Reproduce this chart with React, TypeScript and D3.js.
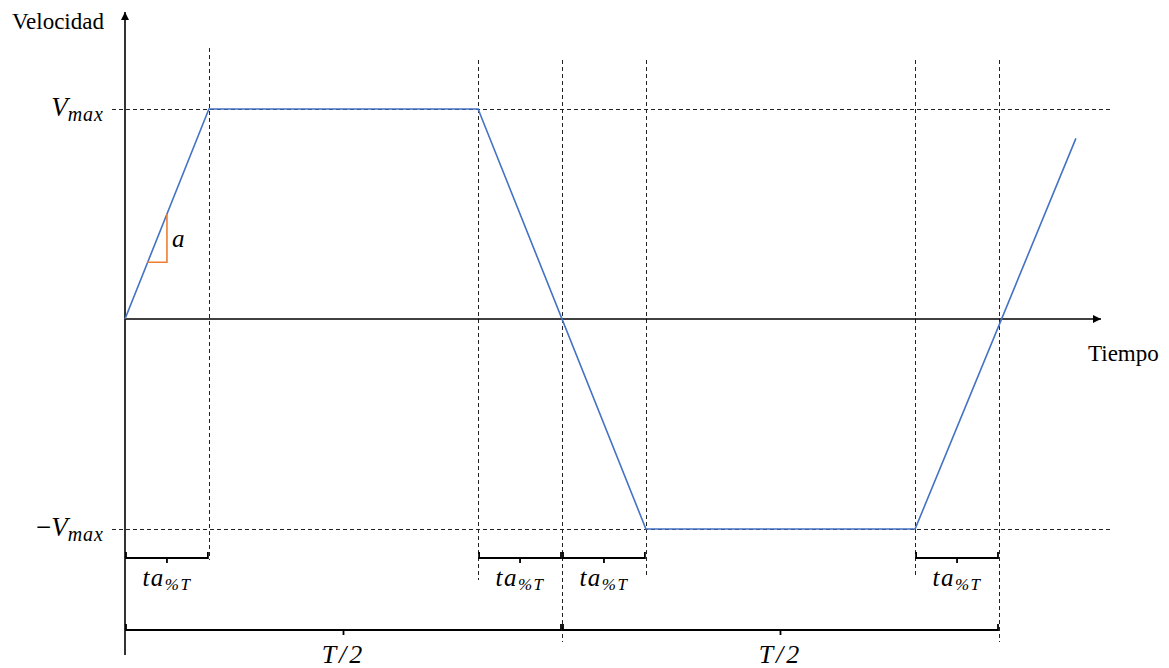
import React, { useRef, useEffect } from "react";
import * as d3 from "d3";

// 시간 단위: T = 1, 속도 단위: Vmax = 1
const taFraction = 0.096;
const velocityTimes = [0, 0.096, 0.404, 0.596, 0.904, 1.088];
const velocityValues = [0, 1, 1, -1, -1, 0.86];
const guideTimes = [0.096, 0.404, 0.5, 0.596, 0.904, 1.0];
const taBrackets = [
  [0, 0.096],
  [0.404, 0.5],
  [0.5, 0.596],
  [0.904, 1.0],
];
const halfBrackets = [
  [0, 0.5],
  [0.5, 1.0],
];
const levelValues = [1, -1];

const W = 1169;
const H = 668;
const BLUE = "#4472C4";
const ORANGE = "#ED7D31";
const MATH_FONT = "'Liberation Serif', 'DejaVu Serif', serif";

const App = () => {
  const ref = useRef<SVGSVGElement | null>(null);

  useEffect(() => {
    if (!ref.current) return;
    const svg = d3.select(ref.current);
    svg.selectAll("*").remove();

    const x = d3.scaleLinear().domain([0, 1]).range([125, 999]);
    const y = d3.scaleLinear().domain([-1, 1]).range([529, 109]);

    // 화살표 마커
    svg
      .append("defs")
      .append("marker")
      .attr("id", "arrow")
      .attr("viewBox", "0 0 10 10")
      .attr("refX", 10)
      .attr("refY", 5)
      .attr("markerWidth", 8)
      .attr("markerHeight", 8)
      .attr("markerUnits", "userSpaceOnUse")
      .attr("orient", "auto")
      .append("path")
      .attr("d", "M0,0 L10,5 L0,10 Z")
      .attr("fill", "#000");

    // 수평 점선 (Vmax, -Vmax)
    svg
      .selectAll("line.hguide")
      .data(levelValues)
      .enter()
      .append("line")
      .attr("x1", 112)
      .attr("x2", 1110)
      .attr("y1", (d) => y(d) + 0.5)
      .attr("y2", (d) => y(d) + 0.5)
      .attr("stroke", "#222")
      .attr("stroke-width", 1)
      .attr("stroke-dasharray", "4,3");

    // 수직 점선
    const guideTop = [48, 60, 60, 60, 60, 60];
    const guideBottom = [560, 580, 642, 576, 578, 642];
    svg
      .selectAll("line.vguide")
      .data(guideTimes)
      .enter()
      .append("line")
      .attr("x1", (d) => Math.round(x(d)) + 0.5)
      .attr("x2", (d) => Math.round(x(d)) + 0.5)
      .attr("y1", (d, i) => guideTop[i])
      .attr("y2", (d, i) => guideBottom[i])
      .attr("stroke", "#222")
      .attr("stroke-width", 1)
      .attr("stroke-dasharray", "4,3");

    // 축
    svg
      .append("line")
      .attr("x1", x(0))
      .attr("x2", x(0))
      .attr("y1", 655)
      .attr("y2", 12)
      .attr("stroke", "#000")
      .attr("stroke-width", 1.6)
      .attr("marker-end", "url(#arrow)");
    svg
      .append("line")
      .attr("x1", x(0))
      .attr("x2", 1101)
      .attr("y1", y(0))
      .attr("y2", y(0))
      .attr("stroke", "#000")
      .attr("stroke-width", 1.6)
      .attr("marker-end", "url(#arrow)");

    // 속도 곡선
    const line = d3
      .line<number>()
      .x((d, i) => x(velocityTimes[i]))
      .y((d) => y(d));
    svg
      .append("path")
      .datum(velocityValues)
      .attr("d", line)
      .attr("fill", "none")
      .attr("stroke", BLUE)
      .attr("stroke-width", 1.6);

    // 가속도 삼각형
    const tx = x(taFraction * 0.5);
    const triTop = y(0.5);
    const triBottom = y(0.27);
    svg
      .append("path")
      .attr("d", `M${tx - 20},${triBottom} L${tx},${triBottom} L${tx},${triTop}`)
      .attr("fill", "none")
      .attr("stroke", ORANGE)
      .attr("stroke-width", 1.6);
    svg
      .append("text")
      .attr("x", tx + 5)
      .attr("y", 247)
      .style("font-family", MATH_FONT)
      .style("font-style", "italic")
      .style("font-size", "25px")
      .text("a");

    // 괄호 그리기
    const bracket = (a: number, b: number, yy: number, tick: number) => {
      const x1 = x(a);
      const x2 = x(b);
      const xm = (x1 + x2) / 2;
      svg
        .append("path")
        .attr(
          "d",
          `M${x1 + 1},${yy - tick} L${x1 + 1},${yy} L${x2 - 1},${yy} L${x2 - 1},${yy - tick} M${xm},${yy} L${xm},${yy + 5}`
        )
        .attr("fill", "none")
        .attr("stroke", "#000")
        .attr("stroke-width", 1.8);
    };

    taBrackets.forEach(([a, b]) => {
      bracket(a, b, 558, 6);
      const g = svg
        .append("text")
        .attr("x", x((a + b) / 2))
        .attr("y", 586)
        .attr("text-anchor", "middle")
        .style("font-family", MATH_FONT)
        .style("font-style", "italic")
        .style("font-size", "25px")
        .style("letter-spacing", "1.5px");
      g.append("tspan").text("ta");
      g.append("tspan").attr("dy", 4).style("font-size", "17px").text("%T");
    });

    halfBrackets.forEach(([a, b]) => {
      bracket(a, b, 630, 6);
      svg
        .append("text")
        .attr("x", x((a + b) / 2))
        .attr("y", 663)
        .attr("text-anchor", "middle")
        .style("font-family", MATH_FONT)
        .style("font-style", "italic")
        .style("font-size", "26px")
        .style("letter-spacing", "3px")
        .text("T/2");
    });

    // 라벨
    const vLabel = (val: number, prefix: string) => {
      const t = svg
        .append("text")
        .attr("x", 104)
        .attr("y", y(val) + 7)
        .attr("text-anchor", "end")
        .style("font-family", MATH_FONT)
        .style("font-style", "italic")
        .style("font-size", "27px");
      t.append("tspan").style("font-style", "normal").text(prefix);
      t.append("tspan").text("V");
      t.append("tspan")
        .attr("dy", 5)
        .style("font-size", "20px")
        .style("letter-spacing", "1px")
        .text("max");
    };
    vLabel(1, "");
    vLabel(-1, "\u2212");

    svg
      .append("text")
      .attr("x", 12)
      .attr("y", 29)
      .style("font-family", "'Liberation Serif', serif")
      .style("font-size", "23px")
      .text("Velocidad");
    svg
      .append("text")
      .attr("x", 1088)
      .attr("y", 361)
      .style("font-family", "'Liberation Serif', serif")
      .style("font-size", "23px")
      .text("Tiempo");
  }, []);

  return (
    <svg
      ref={ref}
      width={W}
      height={H}
      style={{ position: "absolute", left: 0, top: 0, background: "#fff" }}
    />
  );
};

export default App;
